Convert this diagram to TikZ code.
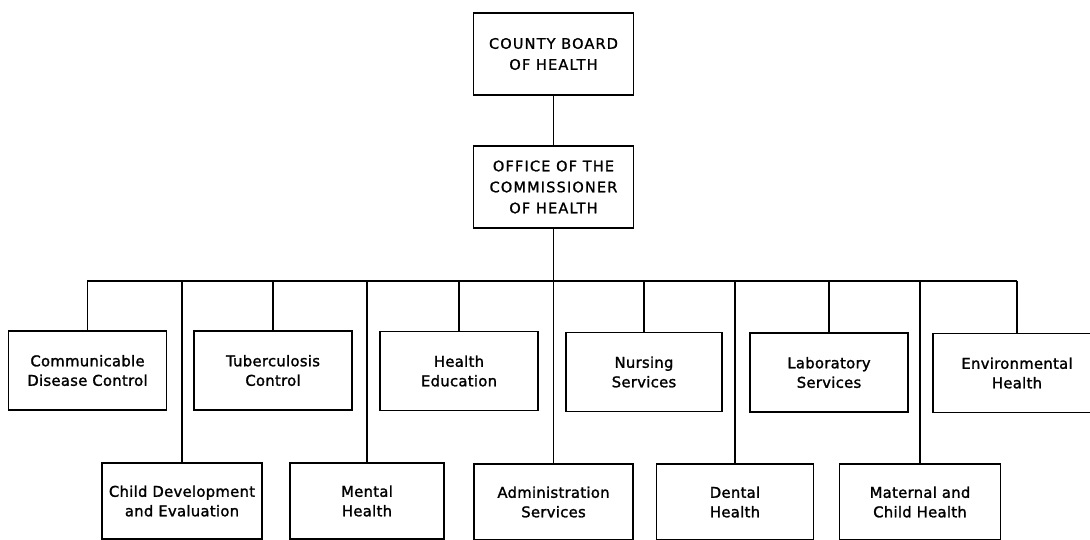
\documentclass[tikz,border=0pt]{standalone}
\usepackage{fontspec}
\setmainfont{DejaVu Sans}
\newfontfamily\capsfont[LetterSpace=8,FakeBold=1.2]{DejaVu Sans}
\newfontfamily\lowfont[LetterSpace=2,FakeBold=1.5]{DejaVu Sans}
\begin{document}
\begin{tikzpicture}[x=1pt,y=-1pt,
  box/.style={draw, line width=1.8pt, align=center, inner sep=0pt, fill=white},
  topbox/.style={box, minimum width=160pt, minimum height=82pt, font=\capsfont\fontsize{14.5}{21}\selectfont},
  unitbox/.style={box, minimum width=158pt, font=\lowfont\fontsize{14.8}{19.5}\selectfont},
  rowone/.style={unitbox, minimum height=79pt},
  rowtwo/.style={unitbox, minimum height=76pt},
  conn/.style={line width=1.5pt}]
\useasboundingbox (0,0) rectangle (1090,540);
\fill[white] (0,0) rectangle (1090,540);
% top boxes
\node[topbox] (county) at (553.5,54) {COUNTY BOARD\\OF HEALTH};
\node[topbox] (office) at (553.5,187) {OFFICE OF THE\\COMMISSIONER\\OF HEALTH};
% bus end points
\coordinate (busL) at (87,281);
\coordinate (busR) at (1017,281);
% first row
\node[rowone] (comm) at (87.5,370.5) {Communicable\\Disease Control};
\node[rowone] (tb) at (273,370.5) {Tuberculosis\\Control};
\node[rowone] (he) at (459,371) {Health\\Education};
\node[rowone, minimum width=156pt] (nurs) at (644,372) {Nursing\\Services};
\node[rowone] (lab) at (829,372.5) {Laboratory\\Services};
\node[rowone, minimum width=168pt] (env) at (1017,373) {Environmental\\Health};
% second row
\node[rowtwo, minimum width=160pt] (cde) at (182,501) {Child Development\\and Evaluation};
\node[rowtwo, minimum width=154pt] (mental) at (367,501) {Mental\\Health};
\node[rowtwo, minimum width=159pt] (admin) at (553.5,502) {Administration\\Services};
\node[rowtwo, minimum width=157pt] (dental) at (735,502) {Dental\\Health};
\node[rowtwo, minimum width=161pt] (maternal) at (920,502) {Maternal and\\Child Health};
% connectors
\draw[conn] (county.south) -- (office.north);
\draw[conn] (office.south) -- (admin.north);
\draw[conn] (busL) -- (busR);
\foreach \n in {comm,tb,he,nurs,lab,env,cde,mental,dental,maternal}
  \draw[conn] (\n.north) -- (\n.north |- busL);
\end{tikzpicture}
\end{document}
